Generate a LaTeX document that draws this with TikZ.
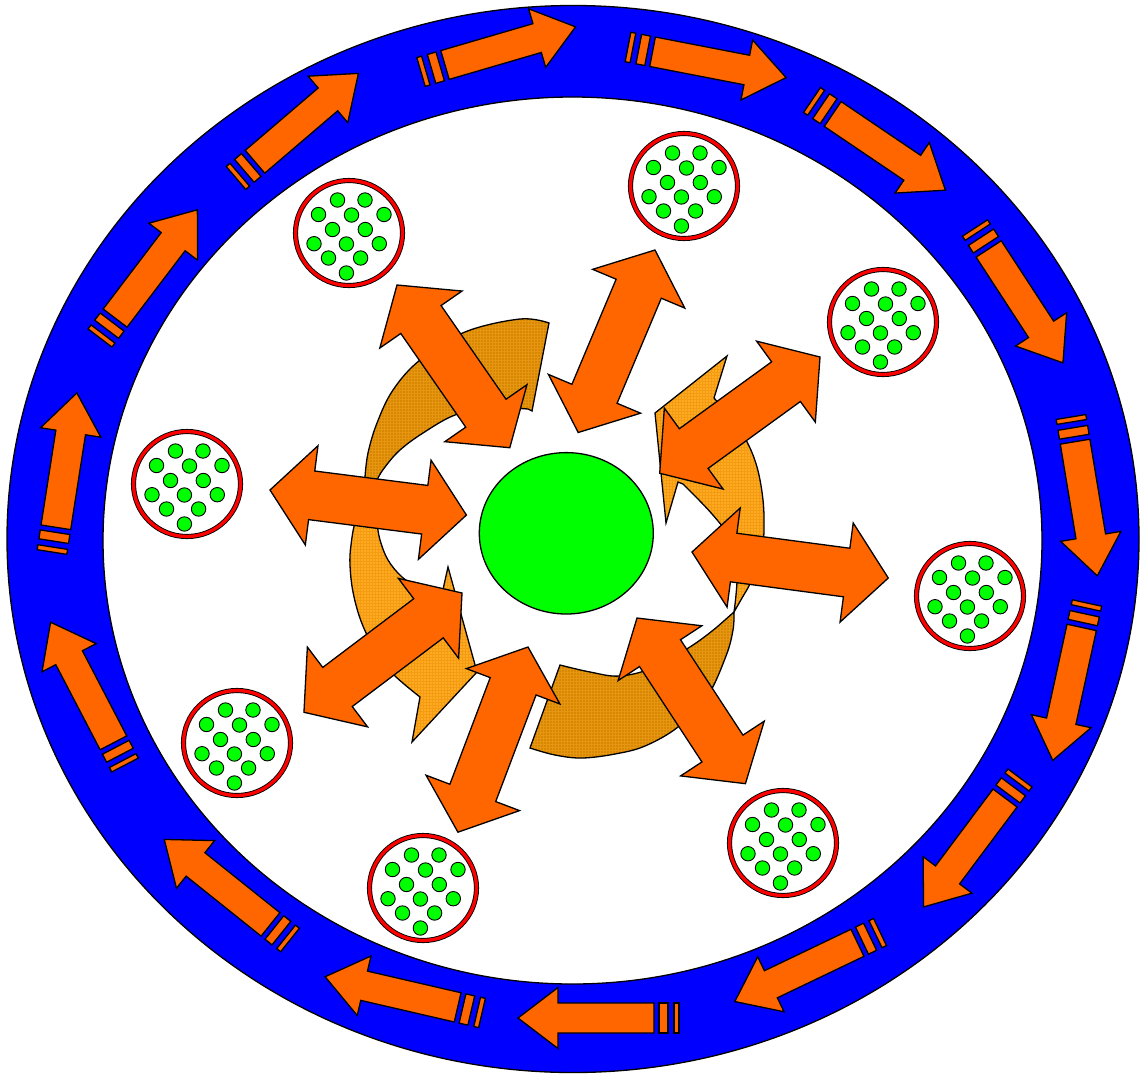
\documentclass[tikz,border=0pt]{standalone}
\usetikzlibrary{patterns}
\definecolor{ringblue}{HTML}{0000FF}
\definecolor{arrorange}{HTML}{FF6600}
\definecolor{cellgreen}{HTML}{00FF00}
\definecolor{cellred}{HTML}{FF0000}
\definecolor{darkamber}{HTML}{D98600}
\definecolor{darkamberline}{HTML}{E59612}
\definecolor{lightamber}{HTML}{FFAA22}
\definecolor{lightamberline}{HTML}{F39C12}
\begin{document}
\begin{tikzpicture}[x=1pt,y=-1pt,
  outline/.style={draw=black, line width=1.3pt, line join=miter},
  orangefill/.style={outline, fill=arrorange},
  darkpiece/.style={fill=darkamber, postaction={pattern=grid, pattern color=darkamberline}, postaction={draw=black, line width=1.3pt, line join=miter}},
  lightpiece/.style={fill=lightamber, postaction={pattern=grid, pattern color=lightamberline}, postaction={draw=black, line width=1.3pt, line join=miter}},
  ringarrowpic/.pic={
    \filldraw[orangefill] (0,-15) rectangle (5,15);
    \filldraw[orangefill] (11,-15) rectangle (20,15);
    \filldraw[orangefill] (25,-15) -- (121,-15) -- (121,-30.5) -- (161,0) -- (121,30.5) -- (121,15) -- (25,15) -- cycle;
  },
  dblarrowpic/.pic={
    \filldraw[orangefill] (0,0) -- (42,-50) -- (42,-24.5) -- (156,-24.5) -- (156,-50) -- (198,0) -- (156,50) -- (156,24.5) -- (42,24.5) -- (42,50) -- cycle;
  },
  cellpic/.pic={
    \filldraw[fill=white, draw=black, double=cellred, double distance=3.3pt, line width=0.9pt] (0,0) ellipse (53.5 and 52.5);
    \foreach \dx/\dy in {-11.5/-33, 16/-33, -30.5/-18.5, 2.5/-18, 35/-18.5, -16.5/-3.5, 16.3/-3.5, -35/10.7, -2.6/11, 30.3/10.7, -20.5/25, 11.6/25, -2.6/40}
      \filldraw[fill=cellgreen, draw=black, line width=0.9pt] (\dx,\dy) circle (7.2);
  }
]
\useasboundingbox (0,0) rectangle (1140,1077);
\fill[white] (0,0) rectangle (1140,1077);

% blue ring
\filldraw[fill=ringblue, draw=black, line width=1.3pt, even odd rule]
  (573,539) ellipse (566 and 533.5) (572.5,540.5) ellipse (469.5 and 443.5);

% ring arrows
\foreach \tx/\ty/\px/\py in {421/72/575/27, 628/47/788/78, 812/100/948/192, 975/228/1065/366, 1071/417/1097/574, 1087/603/1053/759, 1020/778/925/905, 880/932/738/1000, 679/1018/517/1018, 482/1013/322/976, 290/940/165/840, 125/765/51/623, 52/552/77/392, 100/338/198/209, 236/178/360/72}{
  \pgfmathsetmacro\ang{atan2(\ty-\py,\px-\tx)}
  \pic[rotate=\ang] at (\tx,\ty) {ringarrowpic};
}

% cells
\foreach \cx/\cy in {349/233, 684/186, 883/322, 187/484, 970/596, 237/743, 783/843, 423/888}
  \pic at (\cx,\cy) {cellpic};

% central curved arrows
\path[darkpiece] (549,323) -- (532,411) -- plot[smooth, tension=0.6] coordinates {(528,409) (490,408) (455,415) (423,433) (400,450) (385,467) (377,480) (369,500)} -- plot[smooth, tension=0.6] coordinates {(365,477) (368,453) (377,423) (393,390) (420,360) (465,332) (520,319) (549,323)} -- cycle;
\path[darkpiece] (560,665) -- plot[smooth, tension=0.6] coordinates {(530,748) (555,755) (582,758) (615,754) (645,746) (678,727) (707,697) (726,656) (733,630) (734,612)} -- plot[smooth, tension=0.6] coordinates {(717,627) (693,645) (655,667) (620,676) (590,672) (560,665)} -- cycle;
\path[lightpiece] plot[smooth, tension=0.6] coordinates {(369,500) (356,520) (351,545) (350,565) (353,592) (361,621) (374,648) (392,673) (420,697)} -- (412,742) -- (477,672) -- (448,567) -- (442,594) -- plot[smooth, tension=0.6] coordinates {(420,589) (402,577) (388,560) (380,540) (376,520) (369,500)} -- cycle;
\path[lightpiece] plot[smooth, tension=0.6] coordinates {(734,612) (742,598) (750,584) (757,567) (762,550) (764,530) (763,500) (757,467) (746,440) (730,417) (714,398)} -- (727,356) -- (655,413) -- (666,523) -- (678,482) -- plot[smooth, tension=0.6] coordinates {(683,484) (697,498) (712,514) (726,532) (734,553) (737,575) (736,595) (734,612)} -- cycle;

% green centre
\filldraw[fill=cellgreen, draw=black, line width=1.3pt] (566.3,533.3) ellipse (87 and 80.7);

% double arrows
\foreach \ax/\ay/\bx/\by in {397/285/510/448, 655/250/578/433, 820/357/660/473, 692/552/888/578, 637/618/745/783, 528/647/458/832, 462/593/303/713, 270/490/466/515}{
  \pgfmathsetmacro\ang{atan2(\ay-\by,\bx-\ax)}
  \pic[rotate=\ang] at (\ax,\ay) {dblarrowpic};
}
\end{tikzpicture}
\end{document}
